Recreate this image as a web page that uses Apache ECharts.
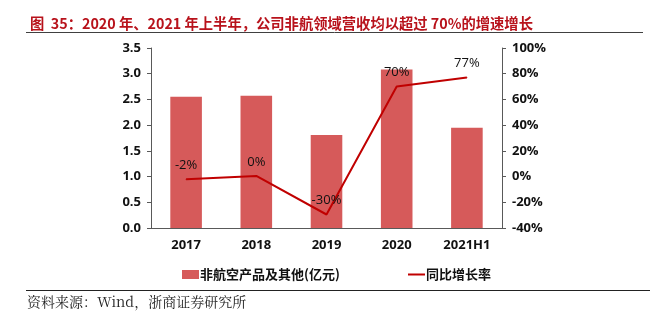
<!DOCTYPE html>
<html><head><meta charset="utf-8">
<script src="https://cdn.jsdelivr.net/npm/echarts@6/dist/echarts.min.js"></script>
<style>html,body{margin:0;padding:0;background:#fff}#c{width:654px;height:321px}</style>
</head><body><div id="c"></div>
<script>
const categories = ['2017', '2018', '2019', '2020', '2021H1'];
const revenue = [2.55, 2.57, 1.81, 3.08, 1.95];
const growth = [-2, 0.5, -29.5, 70, 77];
const growthLabels = ['-2%', '0%', '-30%', '70%', '77%'];
const leftTicks = [0, 3.5, 0.5];
const rightTicks = [-40, 100, 20];

const chart = echarts.init(document.getElementById('c'));
const F = '"Open Sans", "Noto Sans CJK SC", sans-serif';
chart.setOption({
  animation: false,
  title: {
    text: '图  35：2020 年、2021 年上半年，公司非航领域营收均以超过 70%的增速增长',
    left: 25, top: 11,
    textStyle: {color: '#B8121B', fontSize: 14.3, fontWeight: 'bold', fontFamily: '"Noto Sans CJK SC", sans-serif'}
  },
  graphic: [
    {type: 'line', shape: {x1: 26, y1: 32.5, x2: 643, y2: 32.5}, style: {stroke: '#404040', lineWidth: 1}},
    {type: 'line', shape: {x1: 26, y1: 290.5, x2: 650, y2: 290.5}, style: {stroke: '#222', lineWidth: 1}},
    {type: 'text', left: 27, top: 295, style: {text: '资料来源：Wind，浙商证券研究所', fill: '#222', fontSize: 14, fontFamily: '"Noto Serif CJK SC", "Liberation Serif", serif'}}
  ],
  legend: [
    {data: [{name: '非航空产品及其他(亿元)', icon: 'rect'}], left: 177, top: 263, itemWidth: 17, itemHeight: 9, itemGap: 4,
     textStyle: {fontSize: 13, fontWeight: 'bold', color: '#111', fontFamily: '"Noto Sans CJK SC", sans-serif', padding: [0,0,0,-4]}},
    {data: [{name: '同比增长率', icon: 'rect'}], left: 403, top: 263, itemWidth: 17, itemHeight: 2,
     textStyle: {fontSize: 13, fontWeight: 'bold', color: '#111', fontFamily: '"Noto Sans CJK SC", sans-serif', padding: [0,0,0,-4]}}
  ],
  grid: {left: 151, right: 152, top: 48, bottom: 93},
  xAxis: {
    type: 'category', data: categories,
    axisLine: {lineStyle: {color: '#595959'}},
    axisTick: {show: false},
    axisLabel: {color: '#111', fontSize: 13, fontWeight: 'bold', fontFamily: F, margin: 11}
  },
  yAxis: [
    {type: 'value', min: leftTicks[0], max: leftTicks[1], interval: leftTicks[2], position: 'left',
     splitLine: {show: false},
     axisLine: {show: true, lineStyle: {color: '#595959'}},
     axisTick: {show: true, length: 4, lineStyle: {color: '#595959'}},
     axisLabel: {color: '#111', fontSize: 13, fontWeight: 'bold', fontFamily: F, margin: 10,
       formatter: v => v.toFixed(1)}},
    {type: 'value', min: rightTicks[0], max: rightTicks[1], interval: rightTicks[2], position: 'right',
     splitLine: {show: false},
     axisLine: {show: true, lineStyle: {color: '#595959'}},
     axisTick: {show: true, length: 4, lineStyle: {color: '#595959'}},
     axisLabel: {color: '#111', fontSize: 13, fontWeight: 'bold', fontFamily: F, margin: 10,
       formatter: v => v + '%'}}
  ],
  series: [
    {name: '非航空产品及其他(亿元)', type: 'bar', data: revenue, barWidth: '45%',
     itemStyle: {color: '#D65A5A'}},
    {name: '同比增长率', type: 'line', yAxisIndex: 1, data: growth, symbol: 'circle', symbolSize: 1, showSymbol: true,
     lineStyle: {color: '#C00000', width: 2}, itemStyle: {color: '#C00000'},
     label: {show: true, position: 'top', distance: 7, color: '#111', fontSize: 13, fontFamily: F,
       formatter: p => growthLabels[p.dataIndex]}}
  ]
});
</script></body></html>
